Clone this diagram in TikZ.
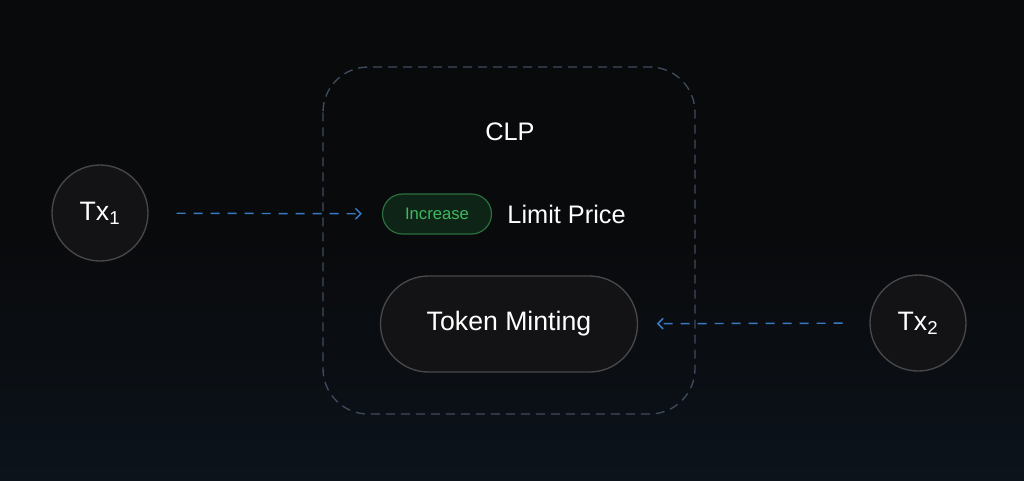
\documentclass[tikz,border=0pt]{standalone}
\usepackage{fontspec}
\setmainfont{Liberation Sans}
\usepackage{tikz}
\usepackage{xcolor}
\usetikzlibrary{arrows,shapes,positioning}
\usetikzlibrary{arrows.meta}

\definecolor{bgtop}{RGB}{9,10,12}
\definecolor{bgbot}{RGB}{12,19,27}
\definecolor{frameline}{RGB}{62,76,92}
\definecolor{arrowblue}{RGB}{56,122,196}
\definecolor{discfill}{RGB}{19,19,21}
\definecolor{discline}{RGB}{72,72,74}
\definecolor{pillfill}{RGB}{14,36,22}
\definecolor{pillline}{RGB}{42,112,62}
\definecolor{pilltext}{RGB}{64,184,96}

\tikzset{
  txdisc/.style={circle, minimum size=72pt, inner sep=0pt, fill=discfill, draw=discline, line width=1pt, text=white, font=\fontsize{20}{22}\selectfont},
  greenpill/.style={rectangle, rounded corners=15pt, minimum width=81.75pt, minimum height=30pt, inner sep=0pt, fill=pillfill, draw=pillline, line width=0.9pt, text=pilltext, font=\fontsize{12.5}{14}\selectfont},
  bigpill/.style={rectangle, rounded corners=36pt, minimum width=192.75pt, minimum height=72pt, inner sep=0pt, fill=discfill, draw=discline, line width=1pt, text=white, font=\fontsize{20}{22}\selectfont},
  flowline/.style={draw=arrowblue, line width=1.1pt, dash pattern={on 6.75pt off 6pt}, -{Straight Barb[length=4pt,width=8pt,line width=1.1pt]}},
}

\begin{document}
\begin{tikzpicture}[x=0.75pt,y=0.75pt,yscale=-1,xscale=1]
% background
\shade [top color=bgtop, bottom color=bgbot, middle color=bgtop] (0,0) rectangle (1024,480);
\useasboundingbox (0,0) rectangle (1024,480);

%Shape: Rounded Rect (CLP frame)
\draw [frameline, line width=1pt, dash pattern={on 6.75pt off 4.5pt}, rounded corners=34pt] (323,67) rectangle (695,414);

% Text Node
\node (clp) at (510,132) [text=white, font=\fontsize{19}{21}\selectfont] {CLP};

%Shape: Circles
\node (tx1) at (100,213) [txdisc] {Tx\textsubscript{1}};
\node (tx2) at (918,323) [txdisc] {Tx\textsubscript{2}};

%Shape: Pills
\node (inc) at (437,214) [greenpill] {Increase};
\node (limit) [right=8pt of inc, text=white, font=\fontsize{19}{21}\selectfont] {Limit Price};
\node (mint) at (509,324) [bigpill] {Token Minting};

%Straight Lines
\draw [flowline, shorten <=21pt, shorten >=15pt] (tx1) -- (inc);
\draw [flowline, shorten <=20pt, shorten >=14pt] (tx2) -- (mint);

\end{tikzpicture}
\end{document}
